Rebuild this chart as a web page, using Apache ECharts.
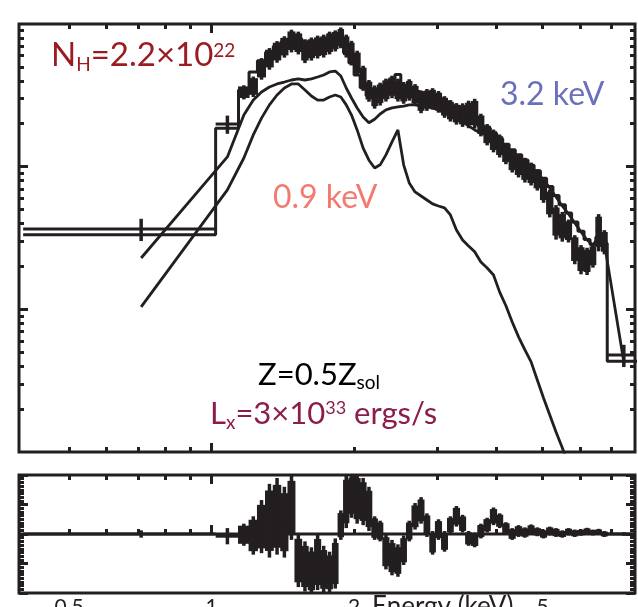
<!DOCTYPE html>
<html><head><meta charset="utf-8">
<script src="https://cdn.jsdelivr.net/npm/echarts@6/dist/echarts.min.js"></script>
<style>html,body{margin:0;padding:0;background:#fff}#c{width:638px;height:607px}</style>
</head><body><div id="c"></div>
<script>
// ---- bin edges (keV) ----
const binEdges = [0.4, 1.02, 1.14, 1.20, 1.25, 1.30, 1.35, 1.40, 1.45, 1.50, 1.55, 1.60, 1.65, 1.70, 1.75, 1.80, 1.85, 1.90, 1.95, 2.00, 2.06, 2.12, 2.18, 2.24, 2.30, 2.37, 2.44, 2.51, 2.58, 2.65, 2.73, 2.81, 2.89, 2.97, 3.06, 3.15, 3.24, 3.34, 3.44, 3.54, 3.65, 3.76, 3.88, 4.00, 4.12, 4.25, 4.38, 4.52, 4.66, 4.80, 4.95, 5.10, 5.26, 5.42, 5.59, 5.76, 5.94, 6.12, 6.30, 6.48, 6.66, 6.85, 8.0];
// ---- observed counts (per bin) ----
const dataVal = [0.0366, 0.199, 0.334, 0.368, 0.492, 0.578, 0.647, 0.701, 0.772, 0.748, 0.657, 0.679, 0.701, 0.712, 0.748, 0.772, 0.811, 0.712, 0.637, 0.542, 0.425, 0.345, 0.313, 0.328, 0.350, 0.368, 0.350, 0.334, 0.350, 0.323, 0.289, 0.298, 0.303, 0.289, 0.266, 0.250, 0.238, 0.234, 0.238, 0.242, 0.199, 0.170, 0.154, 0.142, 0.125, 0.111, 0.103, 0.0964, 0.0903, 0.0820, 0.0698, 0.0566, 0.0423, 0.0390, 0.0360, 0.0269, 0.0229, 0.0222, 0.0240, 0.0360, 0.0301, 0.00479];
const dataErr = [0.0065, 0.029, 0.038, 0.060, 0.085, 0.100, 0.112, 0.120, 0.140, 0.136, 0.125, 0.125, 0.128, 0.130, 0.136, 0.130, 0.135, 0.130, 0.125, 0.108, 0.085, 0.060, 0.058, 0.060, 0.064, 0.066, 0.064, 0.058, 0.060, 0.056, 0.052, 0.052, 0.052, 0.050, 0.046, 0.043, 0.041, 0.044, 0.052, 0.057, 0.036, 0.029, 0.028, 0.026, 0.021, 0.020, 0.019, 0.019, 0.0165, 0.014, 0.014, 0.0125, 0.0115, 0.0092, 0.0066, 0.0062, 0.0053, 0.0048, 0.0044, 0.0105, 0.0058, 0.00085];
// ---- model components at bin centres ----
const hot32 = [0.0229, 0.117, 0.230, 0.293, 0.334, 0.362, 0.380, 0.392, 0.405, 0.412, 0.405, 0.412, 0.425, 0.439, 0.461, 0.468, 0.432, 0.356, 0.303, 0.258, 0.223, 0.203, 0.215, 0.234, 0.250, 0.258, 0.262, 0.266, 0.271, 0.271, 0.266, 0.262, 0.258, 0.250, 0.238, 0.227, 0.215, 0.206, 0.193, 0.181, 0.172, 0.167, 0.154, 0.144, 0.133, 0.123, 0.115, 0.106, 0.0979, 0.0903, 0.0807, 0.0709, 0.0613, 0.0530, 0.0466, 0.0403, 0.0349, 0.0306, 0.0283, 0.0320, 0.0290, 0.00428];
const cool09 = [0.0104, 0.0687, 0.115, 0.167, 0.219, 0.271, 0.318, 0.356, 0.380, 0.380, 0.345, 0.313, 0.293, 0.293, 0.308, 0.318, 0.308, 0.271, 0.230, 0.181, 0.135, 0.111, 0.0979, 0.103, 0.121, 0.149, 0.181, 0.103, 0.0769, 0.0665, 0.0623, 0.0584, 0.0548, 0.0530, 0.0514, 0.0459, 0.0360, 0.0306, 0.0278, 0.0253, 0.0215, 0.0195, 0.0174, 0.0132, 0.0106, 0.00816, 0.00641, 0.00519, 0.00428, 0.00320, 0.00239, 0.00182, 0.00138, 0.00107, 0.000812, 0.000588, 0.00042, 0.00030, 0.00021, 0.00016, 0.00011, 0.00004];
// ---- residuals ----
const resVal = [0, -0.15, -0.05, -0.1, 0.5, 0.9, 1.2, 0.8, 1.8, -1.8, -2.2, -2.5, -1.9, -2.4, -2.6, -2.0, 0.6, 2.2, 2.6, 2.4, 2.2, 1.7, 0.4, 0.2, -1.2, -1.6, -1.8, -1.1, 0.2, 1.2, 1.6, 0.6, -0.6, 0.3, -0.5, 0.6, 1.2, 0.7, -0.3, -0.4, 0.2, 0.6, 1.2, 0.9, 0.4, 0.0, 0.2, 0.1, 0.3, 0.15, 0.0, 0.2, 0.1, 0.0, 0.15, 0.05, 0.1, 0.2, 0.1, 0.15, 0.0, 0.0];
const resErr = [0.25, 0.55, 0.75, 1.3, 1.8, 2.5, 2.6, 2.4, 2.2, 1.8, 1.7, 1.6, 1.9, 1.6, 1.4, 1.7, 1.0, 1.8, 1.5, 1.7, 1.6, 1.5, 0.8, 0.7, 1.2, 1.2, 1.1, 1.0, 0.7, 0.9, 0.9, 0.8, 0.8, 0.7, 0.7, 0.6, 0.7, 0.6, 0.5, 0.5, 0.5, 0.5, 0.6, 0.5, 0.4, 0.4, 0.4, 0.35, 0.35, 0.3, 0.3, 0.3, 0.3, 0.25, 0.25, 0.25, 0.22, 0.22, 0.2, 0.2, 0.2, 0.12];
// ---- axis ticks / labels ----
const xMinorTicks = [0.5, 0.6, 0.7, 0.8, 0.9, 2, 3, 4, 5, 6, 7];
const xMajorTicks = [1];
const xTickLabels = [0.5, 1, 2, 5];
const yMinorTicks = [0.002,0.003,0.004,0.005,0.006,0.007,0.008,0.009,0.02,0.03,0.04,0.05,0.06,0.07,0.08,0.09,0.2,0.3,0.4,0.5,0.6,0.7,0.8,0.9];
const yMajorTicks = [0.01, 0.1];

const ink = '#231f20';
const XMIN = 0.392, XMAX = 7.84;

const nb = dataVal.length;
const bins = [], resBins = [], modelStep = [], hotLine = [], coolLine = [];
for (let i = 0; i < nb; i++) {
  const lo = binEdges[i], hi = binEdges[i+1], c = (lo + hi) / 2;
  bins.push([lo, hi, c, dataVal[i], dataErr[i]]);
  resBins.push([lo, hi, c, resVal[i], resErr[i]]);
  const m = hot32[i] + cool09[i];
  modelStep.push([lo, m], [hi, m]);
  hotLine.push([c, hot32[i]]);
  coolLine.push([c, cool09[i]]);
}

function binRender(logY) {
  return function (params, api) {
    const lo = api.value(0), hi = api.value(1), c = api.value(2), v = api.value(3), e = api.value(4);
    const a = api.coord([lo, v]), b = api.coord([hi, v]);
    const low = (k) => logY ? Math.max(v - k * e, 1e-6) : v - k * e;
    const t = api.coord([c, v + e]), d = api.coord([c, low(1)]);
    const ch = [];
    if (b[0] - a[0] < 16) {
      const bt = api.coord([lo, v + 0.82 * e]), bb = api.coord([lo, low(0.82)]);
      ch.push({type: 'rect', shape: {x: a[0] - 0.5, y: bt[1], width: b[0] - a[0] + 1, height: bb[1] - bt[1]}, style: {fill: ink}});
    }
    ch.push({type: 'line', shape: {x1: a[0], y1: a[1], x2: b[0], y2: b[1]}, style: {stroke: ink, lineWidth: 3}});
    ch.push({type: 'line', shape: {x1: t[0], y1: t[1], x2: d[0], y2: d[1]}, style: {stroke: ink, lineWidth: 3.5}});
    return {type: 'group', children: ch};
  };
}

function xAx(grid, pos, ticks, len, labels) {
  return {
    type: 'log', logBase: 10, gridIndex: grid, position: pos, min: XMIN, max: XMAX,
    axisLine: {show: false}, splitLine: {show: false},
    axisTick: {show: true, inside: true, length: len, customValues: ticks, lineStyle: {color: ink, width: 3}},
    axisLabel: labels ? {show: true, customValues: labels, margin: 4, color: ink, fontFamily: 'Lato', fontSize: 21, formatter: v => String(+v.toPrecision(3))} : {show: false}
  };
}
function yLog(pos, ticks, len) {
  return {
    type: 'log', logBase: 10, gridIndex: 0, position: pos, min: 0.001, max: 1,
    axisLine: {show: false}, splitLine: {show: false}, axisLabel: {show: false},
    axisTick: {show: true, inside: true, length: len, customValues: ticks, lineStyle: {color: ink, width: 3}}
  };
}
function yRes(pos) {
  return {
    type: 'value', gridIndex: 1, position: pos, min: -4, max: 4, interval: 2,
    axisLine: {show: false}, splitLine: {show: false}, axisLabel: {show: false},
    axisTick: {show: true, inside: true, length: 9, lineStyle: {color: ink, width: 3}},
    minorTick: {show: true, splitNumber: 8, length: 5, lineStyle: {color: ink, width: 3}}
  };
}

// text helpers
const mctx = document.createElement('canvas').getContext('2d');
function tw(t, f) { mctx.font = f + 'px Lato'; return mctx.measureText(t).width; }
function txt(t, x, base, f, col) {
  return {type: 'text', x: x, y: base - 0.387 * f, silent: true, z: 100,
    style: {text: t, fill: col, font: f + 'px Lato', verticalAlign: 'middle', align: 'left'}};
}
function compound(parts, x0, base, col) {
  const out = []; let x = x0;
  parts.forEach(p => { out.push(txt(p[0], x, base + (p[2] || 0), p[1], col)); x += tw(p[0], p[1]); });
  return out;
}

const graphics = [].concat(
  compound([['N', 33], ['H', 19, 4], ['=2.2×10', 33], ['22', 19, -10]], 51, 68, '#9b1c20'),
  [txt('3.2 keV', 500, 107, 32, '#6a70bc')],
  [txt('0.9 keV', 273, 210, 32, '#f37a70')],
  compound([['Z=0.5Z', 31], ['sol', 19, 3]], 258, 387, '#000000'),
  compound([['L', 31], ['x', 19, 4], ['=3×10', 31], ['33', 18, -11], [' ergs/s', 31]], 210, 426, '#8b1d4c'),
  [txt('Energy (keV)', 372, 617, 26, ink)]
);

const gridBase = {show: true, borderColor: ink, borderWidth: 3, backgroundColor: 'transparent', outerBoundsMode: 'none', containLabel: false};
const chart = echarts.init(document.getElementById('c'), null, {renderer: 'canvas'});
chart.setOption({
  animation: false,
  backgroundColor: '#ffffff',
  grid: [
    Object.assign({left: 19, top: 24, width: 616, height: 428}, gridBase),
    Object.assign({left: 19, top: 475, width: 616, height: 118}, gridBase)
  ],
  xAxis: [
    xAx(0, 'bottom', xMinorTicks, 5), xAx(0, 'bottom', xMajorTicks, 9),
    xAx(0, 'top', xMinorTicks, 5), xAx(0, 'top', xMajorTicks, 9),
    xAx(1, 'bottom', xMinorTicks, 5, xTickLabels), xAx(1, 'bottom', xMajorTicks, 9),
    xAx(1, 'top', xMinorTicks, 5), xAx(1, 'top', xMajorTicks, 9)
  ],
  yAxis: [
    yLog('left', yMinorTicks, 5), yLog('left', yMajorTicks, 9),
    yLog('right', yMinorTicks, 5), yLog('right', yMajorTicks, 9),
    yRes('left'), yRes('right')
  ],
  graphic: graphics,
  series: [
    {type: 'line', xAxisIndex: 0, yAxisIndex: 0, data: modelStep, showSymbol: false, clip: true,
     lineStyle: {color: ink, width: 3}, z: 3},
    {type: 'custom', xAxisIndex: 0, yAxisIndex: 0, data: bins, renderItem: binRender(true), clip: true, z: 4},
    {type: 'line', xAxisIndex: 0, yAxisIndex: 0, data: hotLine, showSymbol: false, clip: true,
     lineStyle: {color: ink, width: 2.8}, z: 5},
    {type: 'line', xAxisIndex: 0, yAxisIndex: 0, data: coolLine, showSymbol: false, clip: true,
     lineStyle: {color: ink, width: 2.8}, z: 5},
    {type: 'line', xAxisIndex: 4, yAxisIndex: 4, data: [[XMIN, 0], [XMAX, 0]], showSymbol: false,
     lineStyle: {color: ink, width: 3}, z: 3},
    {type: 'custom', xAxisIndex: 4, yAxisIndex: 4, data: resBins, renderItem: binRender(false), clip: true, z: 4}
  ]
});
</script></body></html>
